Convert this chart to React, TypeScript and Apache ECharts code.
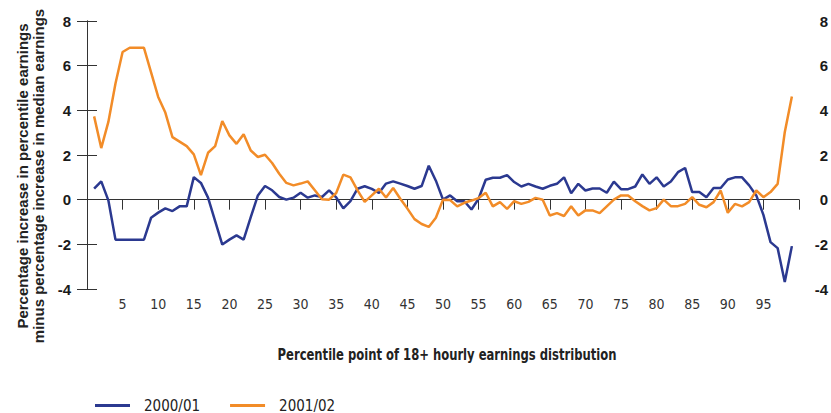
import React, { useEffect, useRef } from "react";
import * as echarts from "echarts";

const seriesNames = ["2000/01", "2001/02"];
const xTickLabels = [5, 10, 15, 20, 25, 30, 35, 40, 45, 50, 55, 60, 65, 70, 75, 80, 85, 90, 95];
const yTicks = [-4, -2, 0, 2, 4, 6, 8];

const values200001 = [
  0.49, 0.82, -0.03, -1.79, -1.79, -1.79, -1.79, -1.79, -0.81, -0.58,
  -0.39, -0.51, -0.3, -0.3, 1.01, 0.75, 0.09, -0.96, -2.01, -1.79,
  -1.6, -1.79, -0.78, 0.19, 0.61, 0.42, 0.12, 0.0, 0.09, 0.31,
  0.09, 0.19, 0.12, 0.42, 0.1, -0.39, -0.07, 0.49, 0.6, 0.48,
  0.3, 0.72, 0.82, 0.72, 0.61, 0.49, 0.61, 1.52, 0.85, 0.0,
  0.19, -0.07, -0.07, -0.44, 0.04, 0.89, 0.98, 0.98, 1.1, 0.79,
  0.59, 0.71, 0.59, 0.49, 0.62, 0.71, 1.0, 0.29, 0.71, 0.41,
  0.5, 0.5, 0.31, 0.81, 0.47, 0.47, 0.59, 1.13, 0.71, 1.0,
  0.59, 0.81, 1.23, 1.42, 0.34, 0.34, 0.11, 0.52, 0.52, 0.9,
  1.0, 1.0, 0.64, 0.19, -0.68, -1.9, -2.17, -3.69, -2.08,
];

const values200102 = [
  3.73, 2.31, 3.48, 5.2, 6.61, 6.8, 6.8, 6.8, 5.7, 4.6,
  3.9, 2.8, 2.6, 2.4, 2.03, 1.1, 2.1, 2.4, 3.52, 2.88,
  2.5, 2.93, 2.2, 1.91, 2.01, 1.64, 1.16, 0.75, 0.64, 0.72,
  0.82, 0.42, 0.02, 0.0, 0.3, 1.12, 1.0, 0.42, -0.1, 0.19,
  0.49, 0.1, 0.52, 0.04, -0.4, -0.87, -1.09, -1.22, -0.81, 0.0,
  -0.02, -0.3, -0.14, -0.04, 0.07, 0.31, -0.3, -0.11, -0.41, -0.07,
  -0.19, -0.1, 0.08, 0.0, -0.71, -0.6, -0.73, -0.3, -0.71, -0.48,
  -0.48, -0.6, -0.3, 0.0, 0.19, 0.19, -0.07, -0.29, -0.48, -0.38,
  0.0, -0.29, -0.29, -0.19, 0.11, -0.23, -0.34, -0.11, 0.41, -0.59,
  -0.19, -0.3, -0.11, 0.41, 0.11, 0.34, 0.71, 3.02, 4.62,
];

const percentiles = values200001.map((_, i) => i + 1);

const xTitle = "Percentile point of 18+ hourly earnings distribution";
const yTitle = ["Percentage increase in percentile earnings", "minus percentage increase in median earnings"];

const BLUE = "#2b3990";
const ORANGE = "#f28c28";
const AXIS = "#333333";
const NARROW = "'Liberation Sans Narrow', 'DejaVu Sans Condensed', 'Liberation Sans', Arial, sans-serif";
const BOLD = "'Liberation Sans', Arial, sans-serif";

export default function App() {
  const ref = useRef<HTMLDivElement>(null);
  useEffect(() => {
    if (!ref.current) return;
    const chart = echarts.init(ref.current, null, { renderer: "svg" });
    const yAxisCommon = {
      type: "value",
      min: yTicks[0],
      max: yTicks[yTicks.length - 1],
      interval: 2,
      splitLine: { show: false },
      axisLine: { show: true, lineStyle: { color: AXIS, width: 1 } },
      axisTick: { show: true, length: 10, lineStyle: { color: AXIS, width: 1 } },
    };
    const yLabel = { fontFamily: "Liberation Sans", fontWeight: 700, fontSize: 15, color: "#1a1a1a" };
    chart.setOption({
      animation: false,
      backgroundColor: "#ffffff",
      grid: { left: 87, right: 29, top: 21, bottom: 124, containLabel: false },
      legend: {
        data: seriesNames,
        left: 90,
        top: 393,
        icon: "rect",
        itemWidth: 35,
        itemHeight: 3,
        itemGap: 30,
        textStyle: { fontFamily: NARROW, fontSize: 15, color: "#222", padding: [0, 0, 0, 9] },
      },
      xAxis: [
        {
          type: "value",
          min: 0,
          max: 100,
          interval: 5,
          axisLine: { show: true, onZero: true, lineStyle: { color: AXIS, width: 1 } },
          axisTick: { show: true, length: 10, lineStyle: { color: AXIS, width: 1 } },
          axisLabel: { show: false },
          splitLine: { show: false },
        },
        {
          type: "value",
          position: "bottom",
          min: 0,
          max: 100,
          interval: 5,
          axisLine: { show: false, onZero: false },
          axisTick: { show: false },
          splitLine: { show: false },
          axisLabel: {
            show: true,
            margin: 8,
            fontFamily: NARROW,
            fontSize: 14,
            color: AXIS,
            formatter: (v: number) => (xTickLabels.includes(v) ? String(v) : ""),
          },
        },
      ],
      yAxis: [
        {
          ...yAxisCommon,
          position: "left",
          axisLabel: { margin: 16, ...yLabel },
        },
        {
          ...yAxisCommon,
          position: "right",
          axisLabel: { margin: 29, align: "right", ...yLabel },
        },
      ],
      graphic: [
        {
          type: "text",
          x: 30,
          y: 176,
          rotation: Math.PI / 2,
          style: {
            text: yTitle.join("\n"),
            font: "bold 15px " + BOLD,
            fill: "#222",
            align: "center",
            verticalAlign: "middle",
            lineHeight: 16,
          },
        },
        {
          type: "text",
          x: 447,
          y: 355,
          scaleX: 0.86,
          style: {
            text: xTitle,
            font: "bold 15px " + NARROW,
            fill: "#222",
            align: "center",
            verticalAlign: "middle",
          },
        },
      ],
      series: [
        {
          name: seriesNames[0],
          type: "line",
          xAxisIndex: 0,
          yAxisIndex: 0,
          data: percentiles.map((p, i) => [p, values200001[i]]),
          showSymbol: false,
          symbol: "none",
          lineStyle: { color: BLUE, width: 2.5 },
          itemStyle: { color: BLUE },
        },
        {
          name: seriesNames[1],
          type: "line",
          xAxisIndex: 0,
          yAxisIndex: 0,
          data: percentiles.map((p, i) => [p, values200102[i]]),
          showSymbol: false,
          symbol: "none",
          lineStyle: { color: ORANGE, width: 2.5 },
          itemStyle: { color: ORANGE },
        },
      ],
    });
    return () => chart.dispose();
  }, []);
  return (
    <div
      ref={ref}
      style={{ position: "fixed", left: 0, top: 0, width: 831, height: 413, background: "#fff" }}
    />
  );
}
